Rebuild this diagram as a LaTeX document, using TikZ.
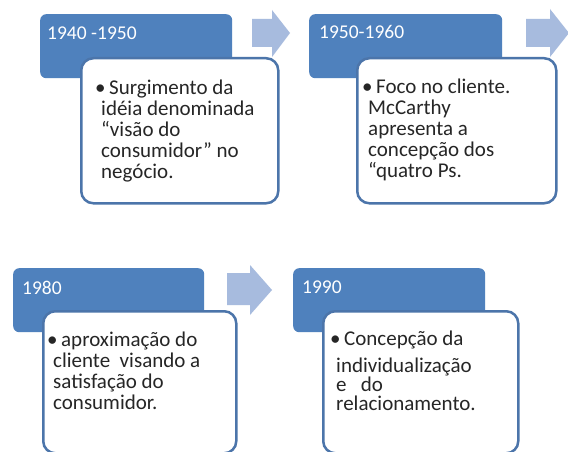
\documentclass[tikz,border=0pt]{standalone}
\usepackage{fontspec}
\setmainfont{Carlito}
\definecolor{hdrblue}{RGB}{79,129,189}
\definecolor{cardline}{RGB}{76,117,170}
\definecolor{arrblue}{RGB}{167,187,222}
\definecolor{txt}{RGB}{38,38,38}
\newcommand{\bodyfont}{\fontsize{21}{21}\selectfont\lineskiplimit=-100pt\relax}
\newcommand{\hdrfont}{\fontsize{19.5}{23}\selectfont}
\newcommand{\bul}{\rule{0pt}{18pt}\makebox[14pt][l]{\textbullet}}
\newcommand{\ind}{\hspace*{6pt}}
\tikzset{
  hdr/.style={fill=hdrblue, rounded corners=6pt, inner sep=0pt, anchor=north west},
  card/.style={fill=white, draw=cardline, line width=2.5pt, rounded corners=12pt, inner sep=0pt, anchor=north west},
  hdrtext/.style={text=white, font=\hdrfont, inner sep=0pt, anchor=base west},
  body/.style={text=txt, align=left, inner sep=0pt, anchor=north west, font=\bodyfont},
  blockarrow/.style={fill=arrblue}
}
\begin{document}
\begin{tikzpicture}[x=1pt,y=-1pt]
\useasboundingbox (0,0) rectangle (568,452);
\fill[white] (0,0) rectangle (568,452);
\clip (0,0) rectangle (568,452);
% arrows
\fill[blockarrow] (252,19) -- (272,19) -- (272,10) -- (290,33) -- (272,57) -- (272,47) -- (252,47) -- cycle;
\fill[blockarrow] (526,19) -- (550,19) -- (550,9) -- (569,33) -- (550,57) -- (550,47) -- (526,47) -- cycle;
\fill[blockarrow] (227,273) -- (250,273) -- (250,265) -- (272,290) -- (250,315) -- (250,305) -- (227,305) -- cycle;
% headers
\node[hdr, minimum width=192pt, minimum height=64pt] (h1) at (40,14) {};
\node[hdr, minimum width=193pt, minimum height=64pt] (h2) at (309,14) {};
\node[hdr, minimum width=191pt, minimum height=64pt] (h3) at (13,268) {};
\node[hdr, minimum width=192pt, minimum height=64pt] (h4) at (293,268) {};
% cards
\node[card, minimum width=197pt, minimum height=145pt] (c1) at (80,57) {};
\node[card, minimum width=199pt, minimum height=145pt] (c2) at (356,57) {};
\node[card, minimum width=193pt, minimum height=142pt] (c3) at (42,310) {};
\node[card, minimum width=195pt, minimum height=142pt] (c4) at (322,310) {};
% header texts
\node[hdrtext] (y1) at (47,40) {1940 -1950};
\node[hdrtext] (y2) at (319,39) {1950-1960};
\node[hdrtext] (y3) at (22,294) {1980};
\node[hdrtext] (y4) at (302,293) {1990};
% body texts
\node[body] (b1) at (95,76) {\bul Surgimento da\\ \ind idéia denominada\\ \ind “visão do\\ \ind consumidor” no\\ \ind negócio.};
\node[body] (b2) at (362,75) {\bul Foco no cliente.\\ \ind McCarthy\\ \ind apresenta a\\ \ind concepção dos\\ \ind “quatro Ps.};
\node[body] (b3) at (47,328) {\bul aproximação do\\ \ind cliente\ \ visando a\\ \ind satisfação do\\ \ind consumidor.};
\node[body] (b4) at (330,327) {\bul Concepção da\\[6pt] \ind individualização\\[-2pt] \ind e\ \ \ do\\[-2pt] \ind relacionamento.};
\end{tikzpicture}
\end{document}
